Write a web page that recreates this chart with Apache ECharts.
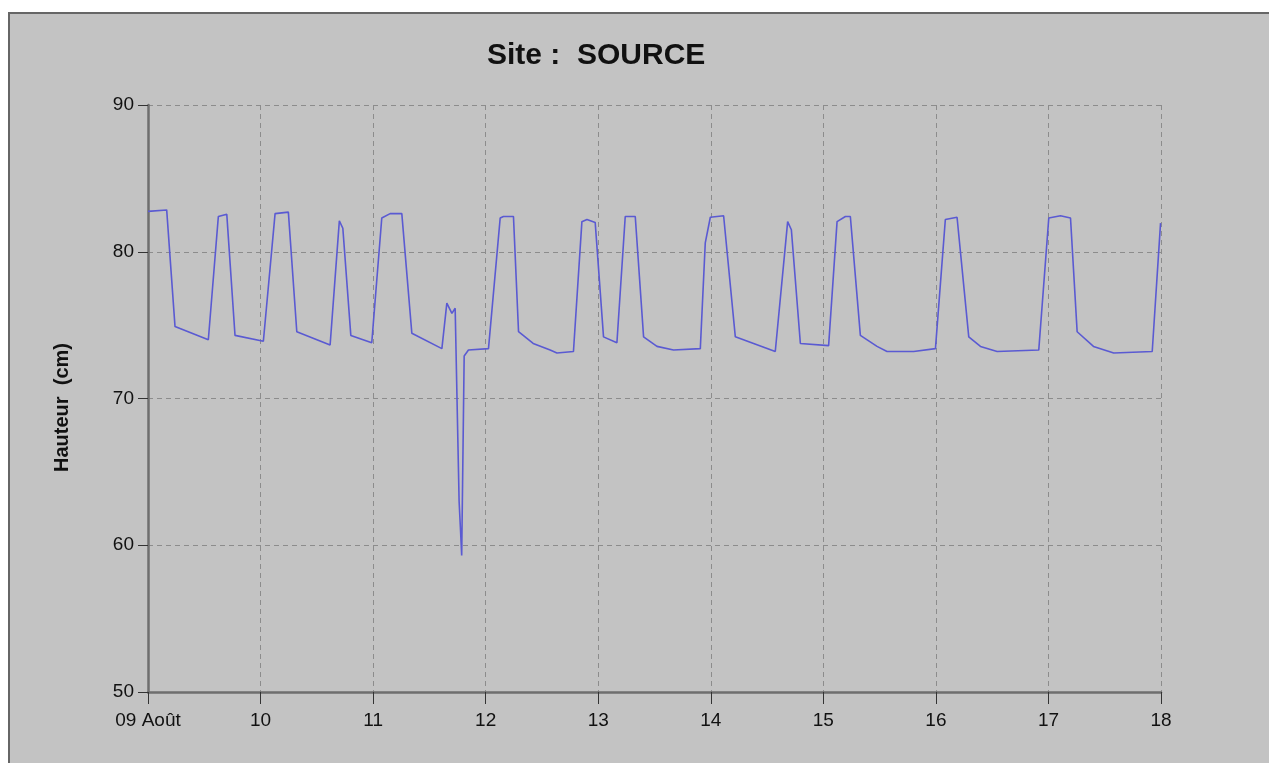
<!DOCTYPE html>
<html>
<head>
<meta charset="utf-8">
<script src="https://cdn.jsdelivr.net/npm/echarts@6/dist/echarts.min.js"></script>
<style>
  html, body { margin: 0; padding: 0; background: #ffffff; width: 1269px; height: 763px; overflow: hidden; }
  #frame { position: absolute; left: 8px; top: 12px; width: 1259px; height: 749px;
           border-left: 2px solid #666666; border-top: 2px solid #666666; background: #c3c3c3; }
  #chart { width: 1259px; height: 749px; }
</style>
</head>
<body>
<div id="frame"><div id="chart"></div></div>
<script>
// Time in days since 09 Août 00:00
const times = [
  0.000, 0.166, 0.240, 0.536, 0.625, 0.700, 0.773, 1.025, 1.129, 1.247,
  1.322, 1.618, 1.700, 1.731, 1.802, 1.988, 2.077, 2.151, 2.255, 2.344,
  2.611, 2.655, 2.700, 2.729, 2.764, 2.778, 2.787, 2.809, 2.847, 3.025,
  3.129, 3.158, 3.247, 3.292, 3.422, 3.573, 3.633, 3.780, 3.855, 3.900,
  3.973, 4.047, 4.166, 4.240, 4.329, 4.403, 4.522, 4.669, 4.907, 4.951,
  4.996, 5.114, 5.218, 5.573, 5.683, 5.716, 5.796, 6.047, 6.122, 6.196,
  6.240, 6.329, 6.477, 6.566, 6.803, 6.996, 7.084, 7.188, 7.292, 7.396,
  7.544, 7.914, 8.003, 8.107, 8.196, 8.255, 8.400, 8.580, 8.922, 8.996
];
// Hauteur (cm)
const heights = [
  82.75, 82.85, 74.9, 74.0, 82.4, 82.55, 74.3, 73.9, 82.6, 82.7,
  74.55, 73.65, 82.1, 81.6, 74.3, 73.8, 82.3, 82.6, 82.6, 74.45,
  73.4, 76.5, 75.8, 76.15, 63.0, 60.8, 59.3, 72.9, 73.3, 73.4,
  82.3, 82.4, 82.4, 74.55, 73.75, 73.3, 73.1, 73.2, 82.05, 82.2,
  82.0, 74.2, 73.8, 82.4, 82.4, 74.2, 73.55, 73.3, 73.4, 80.6,
  82.35, 82.45, 74.2, 73.2, 82.05, 81.5, 73.75, 73.6, 82.05, 82.4,
  82.4, 74.3, 73.55, 73.2, 73.2, 73.4, 82.2, 82.35, 74.2, 73.55,
  73.2, 73.3, 82.3, 82.45, 82.3, 74.55, 73.55, 73.1, 73.2, 81.95
];
const xTickLabels = ['09 Août', '10', '11', '12', '13', '14', '15', '16', '17', '18'];
const yTicks = [50, 60, 70, 80, 90];
const titleText = 'Site :  SOURCE';
const yAxisName = 'Hauteur  (cm)';

const seriesData = times.map((t, i) => [t, heights[i]]);

const chart = echarts.init(document.getElementById('chart'), null, { renderer: 'canvas' });
const gridLine = { show: true, lineStyle: { color: '#8c8c8c', width: 1, type: [5, 4] } };
chart.setOption({
  backgroundColor: '#c3c3c3',
  animation: false,
  title: {
    text: titleText,
    left: 472,
    top: 22,
    textStyle: { fontFamily: 'Liberation Sans, Arial, sans-serif', fontSize: 30, fontWeight: 'bold', color: '#111111' }
  },
  grid: { left: 138, top: 91, width: 1013, height: 587 },
  xAxis: {
    type: 'value',
    min: 0,
    max: xTickLabels.length - 1,
    interval: 1,
    axisLine: { show: true, onZero: false, lineStyle: { color: '#6e6e6e', width: 2.5 } },
    axisTick: { show: true, length: 12, lineStyle: { color: '#333333', width: 1 } },
    axisLabel: {
      margin: 19,
      fontFamily: 'Liberation Sans, Arial, sans-serif',
      fontSize: 19,
      color: '#111111',
      formatter: (v) => xTickLabels[Math.round(v)]
    },
    splitLine: gridLine
  },
  yAxis: {
    type: 'value',
    min: yTicks[0],
    max: yTicks[yTicks.length - 1],
    interval: 10,
    name: yAxisName,
    nameLocation: 'middle',
    nameRotate: 90,
    nameGap: 76,
    nameTextStyle: { fontFamily: 'Liberation Sans, Arial, sans-serif', fontSize: 20, fontWeight: 'bold', color: '#111111', padding: [0, 18, 0, 0] },
    axisLine: { show: true, lineStyle: { color: '#6e6e6e', width: 2.5 } },
    axisTick: { show: true, length: 10, lineStyle: { color: '#333333', width: 1 } },
    axisLabel: {
      margin: 14,
      fontFamily: 'Liberation Sans, Arial, sans-serif',
      fontSize: 19,
      color: '#111111'
    },
    splitLine: gridLine
  },
  series: [{
    type: 'line',
    data: seriesData,
    showSymbol: false,
    symbol: 'none',
    lineStyle: { color: '#5a5ad2', width: 1.6 },
    clip: false
  }]
});
</script>
</body>
</html>
